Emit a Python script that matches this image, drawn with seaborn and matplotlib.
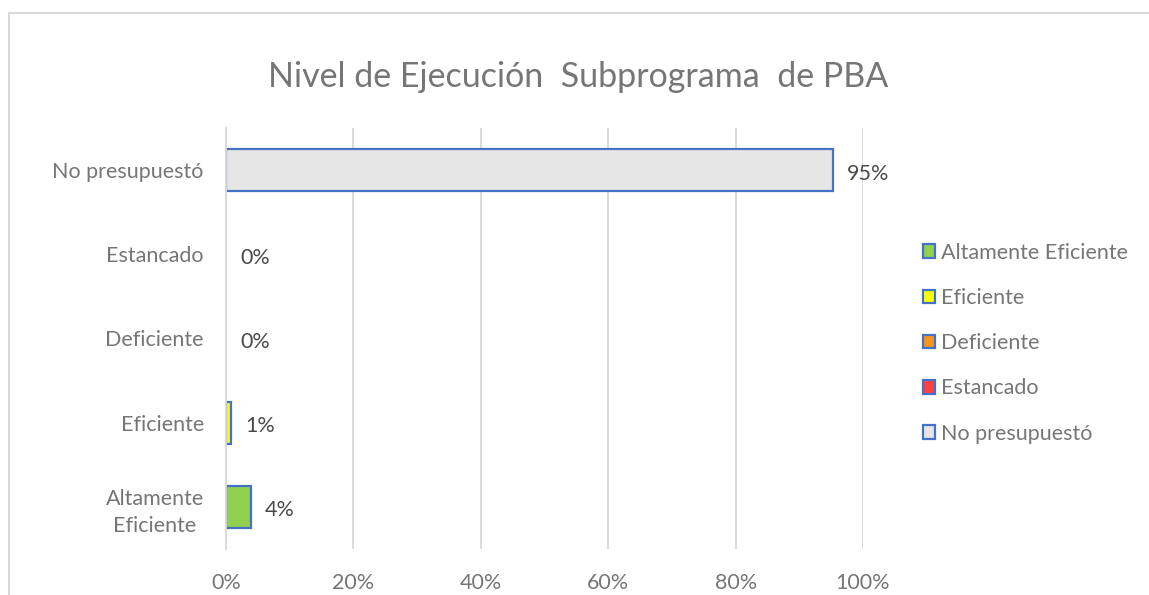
import pandas as pd
import matplotlib
matplotlib.use("Agg")
import matplotlib.pyplot as plt
from matplotlib.patches import Patch
from matplotlib.lines import Line2D
import seaborn as sns

# Data
niveles = ["No presupuestó", "Estancado", "Deficiente", "Eficiente", "Altamente Eficiente"]
valores = [0.953, 0.0, 0.0, 0.008, 0.039]
etiquetas_y = ["No presupuestó", "Estancado", "Deficiente", "Eficiente", "Altamente\nEficiente"]
colores = ["#E7E6E6", "#FF4040", "#F7941D", "#FFFF00", "#92D050"]
orden_leyenda = ["Altamente Eficiente", "Eficiente", "Deficiente", "Estancado", "No presupuestó"]
titulo = "Nivel de Ejecución  Subprograma  de PBA"

sns.set_style("white")
plt.rcParams["font.family"] = ["Lato", "DejaVu Sans"]

TEXT = "#767676"
GRID = "#D9D9D9"
EDGE = "#4472C4"
FS = 15.5

df = pd.DataFrame({"nivel": niveles, "valor": valores})
paleta = dict(zip(niveles, colores))

fig = plt.figure(figsize=(11.49, 5.95), dpi=100)
ax = fig.add_axes([226 / 1149, 1 - 549 / 595, (863 - 226) / 1149, (549 - 128) / 595])

sns.barplot(data=df, x="valor", y="nivel", hue="nivel", palette=paleta, order=niveles,
            hue_order=niveles, edgecolor=EDGE, linewidth=1.6, width=0.5, legend=False,
            saturation=1, ax=ax)

# hide outlines of zero-width bars
for p in ax.patches:
    if p.get_width() == 0:
        p.set_linewidth(0)

for cont in ax.containers:
    txts = ax.bar_label(cont, labels=[f"{v:.0%}" for v in cont.datavalues], padding=10,
                        fontsize=FS, color="#4A4A4A")
    for t in txts:
        t.xyann = (t.xyann[0], -2.5)

ax.set_xlim(0, 1)
ax.set_ylim(4.5, -0.5)
ax.set_xticks([0, 0.2, 0.4, 0.6, 0.8, 1.0])
ax.set_xticklabels(["0%", "20%", "40%", "60%", "80%", "100%"])
ax.set_yticks(range(len(niveles)))
ax.set_yticklabels(etiquetas_y, multialignment="center", linespacing=1.45)
ax.set_yticks([i - 0.5 for i in range(len(niveles) + 1)], minor=True)
ax.set_xlabel("")
ax.set_ylabel("")

ax.grid(axis="x", color=GRID, linewidth=1.3)
ax.set_axisbelow(True)
for s in ["top", "right", "bottom"]:
    ax.spines[s].set_visible(False)
ax.spines["left"].set_color(GRID)
ax.spines["left"].set_linewidth(1.3)

ax.tick_params(axis="y", which="major", length=0, pad=16, labelsize=FS, labelcolor=TEXT)
ax.tick_params(axis="y", which="minor", length=8, width=1.3, color=GRID)
ax.tick_params(axis="x", length=0, pad=17, labelsize=FS, labelcolor=TEXT)

fig.text(0.503, 1 - 77 / 595, titulo, ha="center", va="center", fontsize=24.5, color=TEXT)

handles = [Patch(facecolor=paleta[n], edgecolor=EDGE, linewidth=1.6) for n in orden_leyenda]
fig.legend(handles, orden_leyenda, loc="upper left",
           bbox_to_anchor=(912 / 1149, 1 - 232 / 595), bbox_transform=fig.transFigure,
           frameon=False, fontsize=FS, labelcolor=TEXT, handlelength=0.55,
           handleheight=0.6, handletextpad=0.3, labelspacing=1.17, borderpad=0)

# chart frame (top and left edges visible in the source crop)
fig.add_artist(Line2D([9 / 1149, 1.0], [1 - 13 / 595, 1 - 13 / 595],
                      transform=fig.transFigure, color=GRID, linewidth=1.5))
fig.add_artist(Line2D([9 / 1149, 9 / 1149], [0.0, 1 - 13 / 595],
                      transform=fig.transFigure, color=GRID, linewidth=1.5))

fig.savefig("out.png", dpi=100)
